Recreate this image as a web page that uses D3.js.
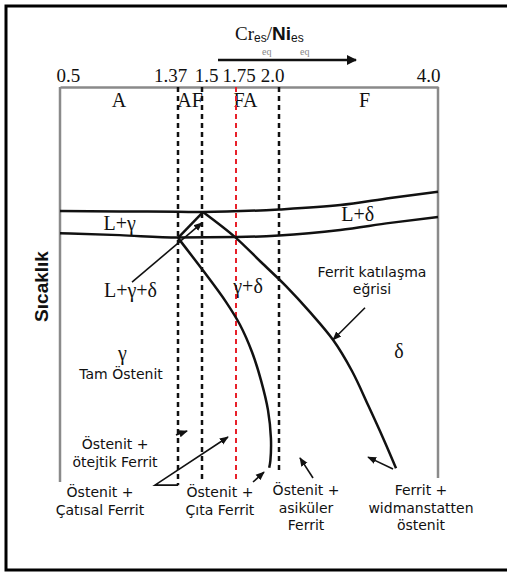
<!DOCTYPE html>
<html>
<head>
<meta charset="utf-8">
<script src="https://cdn.jsdelivr.net/npm/d3@7"></script>
<style>
  body { margin: 0; background: #fff; }
  svg { display: block; }
  .serif { font-family: "Liberation Serif", "Times New Roman", serif; }
  .sans { font-family: "DejaVu Sans", sans-serif; font-size: 14px; }
</style>
</head>
<body>
<div class="chart"></div>
<script>
// Cr_es/Ni_es ratios marked on the top edge
const ticks = [0.5, 1.37, 1.5, 1.75, 2.0, 4.0]
const tickLabels = ["0.5", "1.37", "1.5", "1.75", "2.0", "4.0"]

// solidification modes between the marks
const modes = ["A", "AF", "FA", "F"]
const modeBounds = [[0.5, 1.37], [1.37, 1.5], [1.5, 2.0], [2.0, 4.0]]

// dashed mode boundaries (ratio), lowest relative temperature reached, red or not
const boundaries = [1.37, 1.5, 1.75, 2.0]
const boundaryEnds = [-0.8, 0, 0, 3]
const boundaryRed = [false, false, true, false]

// phase lines: [ratio, relative temperature 0..100]
const liquidus = [[0.5, 68.6], [0.94, 68.5], [1.37, 68.4], [1.507, 68.35], [2.0, 69.0], [2.77, 70.1], [3.4, 71.9], [4.0, 73.5]]
const solidus = [[0.5, 63.0], [0.94, 62.5], [1.37, 61.9], [1.756, 62.0], [2.0, 62.4], [2.77, 63.8], [3.4, 65.6], [4.0, 67.1]]
const peritectic = [[1.37, 61.8], [1.507, 68.35]]
const ferriteCurve = [[1.507, 68.35], [1.743, 62.0], [1.895, 55.7], [2.088, 49.6], [2.39, 43.0], [2.679, 36.0],
  [2.918, 28.1], [3.12, 19.5], [3.321, 10.6], [3.472, 3.5]]
const austeniteCurve = [[1.37, 61.8], [1.515, 53.2], [1.676, 45.6], [1.773, 39.8], [1.843, 32.9], [1.895, 25.8],
  [1.936, 18.2], [1.953, 11.1], [1.95, 5.5], [1.943, 3.6]]

// phase fields
const phaseNames = ["L+γ", "L+δ", "L+γ+δ", "γ+δ", "γ", "δ"]
const phaseAt = [[0.94, 63.8], [2.99, 66.1], [1.02, 46.8], [1.82, 47.9], [0.96, 30.9], [3.51, 31.4]]

// microstructure notes
const noteTexts = [
  ["Tam Östenit"],
  ["Ferrit katılaşma", "eğrisi"],
  ["Östenit +", "ötejtik Ferrit"],
  ["Östenit +", "Çatısal Ferrit"],
  ["Östenit +", "Çıta Ferrit"],
  ["Östenit +", "asiküler", "Ferrit"],
  ["Ferrit +", "widmanstatten", "östenit"]
]
const noteAt = [[0.95, 26.1], [3.17, 51.9], [0.906, 8.35], [0.795, -3.8], [1.632, -3.8], [2.34, -3.3], [3.786, -3.3]]

// pointers, arrowhead at the last point
const pointers = [
  [[1.031, 50.6], [1.5, 65.6]],
  [[3.082, 44.1], [2.679, 36.0]],
  [[1.355, 11.9], [1.419, 12.9]],
  [[1.37, -0.8], [1.2, -0.8], [1.691, 11.4]],
  [[1.849, 0], [1.913, 2.5]],
  [[2.428, 1.0], [2.264, 6.1]],
  [[3.434, 3.3], [3.12, 6.3]]
]

// ---- layout
const W = 507, H = 572
const xStops = [60, 178, 202, 236, 279, 438]   // schematic, not proportional
const plotTop = 87, plotBottom = 482

const svg = d3.select(".chart").append("svg")
  .attr("width", W).attr("height", H)

const x = d3.scaleLinear().domain(ticks).range(xStops)
const y = d3.scaleLinear().domain([0, 100]).range([plotBottom, plotTop])

const defs = svg.append("defs")
defs.append("marker").attr("id", "head")
  .attr("viewBox", "0 0 10 10").attr("refX", 9).attr("refY", 5)
  .attr("markerWidth", 9).attr("markerHeight", 9)
  .attr("markerUnits", "userSpaceOnUse").attr("orient", "auto")
  .append("path").attr("d", "M0,1L10,5L0,9z").attr("fill", "#111")
defs.append("marker").attr("id", "bighead")
  .attr("viewBox", "0 0 10 10").attr("refX", 9).attr("refY", 5)
  .attr("markerWidth", 13).attr("markerHeight", 10)
  .attr("markerUnits", "userSpaceOnUse").attr("orient", "auto")
  .append("path").attr("d", "M0,0L10,5L0,10z").attr("fill", "#111")

// outer frame (open on the right)
svg.append("path")
  .attr("d", `M${W},6H6V570H${W}`)
  .attr("fill", "none").attr("stroke", "#000").attr("stroke-width", 3)

// title, with the faint "eq" left over under it
svg.selectAll(".ghost").data([262, 300]).join("text")
  .attr("class", "ghost serif")
  .attr("x", d => d).attr("y", 55)
  .attr("font-size", 10).attr("fill", "#888")
  .text("eq")

const title = svg.append("text").attr("x", 235).attr("y", 40).attr("fill", "#111")
title.append("tspan").attr("class", "serif").attr("font-size", 19).text("Cr")
title.append("tspan").attr("font-family", "Liberation Sans").attr("font-size", 12).attr("dy", 2).text("es")
title.append("tspan").attr("class", "serif").attr("font-size", 19).attr("dy", -2).text("/")
title.append("tspan").attr("font-family", "Liberation Sans").attr("font-weight", "bold").attr("font-size", 19).text("Ni")
title.append("tspan").attr("font-family", "Liberation Sans").attr("font-size", 12).attr("dy", 2).text("es")

svg.append("line")
  .attr("x1", 218).attr("x2", 356).attr("y1", 60).attr("y2", 60)
  .attr("stroke", "#111").attr("stroke-width", 2.5)
  .attr("marker-end", "url(#bighead)")

// axis on the top edge of the box
const axis = d3.axisTop(x)
  .tickValues(ticks)
  .tickSize(0).tickSizeOuter(0).tickPadding(5)
  .tickFormat((d, i) => tickLabels[i])

const gAxis = svg.append("g")
  .attr("transform", `translate(0,${plotTop})`)
  .call(axis)
gAxis.select(".domain").attr("stroke", "#8a8a8a").attr("stroke-width", 2.5)
gAxis.selectAll("text")
  .attr("class", "serif").attr("font-size", 19).attr("fill", "#111")
  .attr("text-anchor", (d, i) => i === 0 ? "start" : i === ticks.length - 1 ? "end" : "middle")
  .attr("dx", (d, i) => [-4, -8, 4, 2.5, -7, 2][i])

// box sides
svg.append("line").attr("x1", x(0.5)).attr("x2", x(0.5)).attr("y1", plotTop).attr("y2", y(0))
  .attr("stroke", "#8a8a8a").attr("stroke-width", 2.5)
svg.append("line").attr("x1", x(4.0)).attr("x2", x(4.0)).attr("y1", plotTop).attr("y2", y(1))
  .attr("stroke", "#8a8a8a").attr("stroke-width", 2.5)

// mode names
svg.selectAll(".mode").data(modes).join("text")
  .attr("class", "mode serif")
  .attr("x", (d, i) => (x(modeBounds[i][0]) + x(modeBounds[i][1])) / 2 + [0, 0, 5, 6][i])
  .attr("y", 107)
  .attr("text-anchor", "middle").attr("font-size", 20).attr("fill", "#111")
  .text(d => d)

// dashed boundaries
svg.selectAll(".bound").data(boundaries).join("line")
  .attr("class", "bound")
  .attr("x1", d => x(d)).attr("x2", d => x(d))
  .attr("y1", plotTop).attr("y2", (d, i) => y(boundaryEnds[i]))
  .attr("stroke", (d, i) => boundaryRed[i] ? "#e8202a" : "#111")
  .attr("stroke-width", (d, i) => boundaryRed[i] ? 2 : 2.5)
  .attr("stroke-dasharray", "5,4")

// phase lines
const flat = d3.line().x(d => x(d[0])).y(d => y(d[1])).curve(d3.curveMonotoneX)
const bent = d3.line().x(d => x(d[0])).y(d => y(d[1])).curve(d3.curveCatmullRom.alpha(0.5))

svg.append("path").datum(liquidus).attr("d", flat)
  .attr("fill", "none").attr("stroke", "#111").attr("stroke-width", 2.5)
svg.append("path").datum(solidus).attr("d", flat)
  .attr("fill", "none").attr("stroke", "#111").attr("stroke-width", 2.5)
svg.append("path").datum(peritectic).attr("d", bent)
  .attr("fill", "none").attr("stroke", "#111").attr("stroke-width", 2.5)
svg.append("path").datum(ferriteCurve).attr("d", bent)
  .attr("fill", "none").attr("stroke", "#111").attr("stroke-width", 2.5)
svg.append("path").datum(austeniteCurve).attr("d", bent)
  .attr("fill", "none").attr("stroke", "#111").attr("stroke-width", 2.5)

// pointers
svg.selectAll(".pointer").data(pointers).join("path")
  .attr("class", "pointer")
  .attr("d", d3.line().x(d => x(d[0])).y(d => y(d[1])))
  .attr("fill", "none").attr("stroke", "#111").attr("stroke-width", 1.6)
  .attr("marker-end", "url(#head)")

// phase field names
svg.selectAll(".phase").data(phaseNames).join("text")
  .attr("class", "phase serif")
  .attr("x", (d, i) => x(phaseAt[i][0]))
  .attr("y", (d, i) => y(phaseAt[i][1]))
  .attr("text-anchor", "middle").attr("font-size", 20).attr("fill", "#111")
  .text(d => d)

// notes
const notes = svg.selectAll(".note").data(noteTexts).join("text")
  .attr("class", "note sans")
  .attr("text-anchor", "middle").attr("fill", "#111")
  .attr("transform", (d, i) => `translate(${x(noteAt[i][0])},${y(noteAt[i][1])})`)
notes.selectAll("tspan").data(d => d).join("tspan")
  .attr("x", 0).attr("y", (d, j) => j * 17.5)
  .text(d => d)

// temperature axis title
svg.append("text")
  .attr("transform", `translate(48,${(plotTop + plotBottom) / 2 + 2}) rotate(-90)`)
  .attr("text-anchor", "middle")
  .attr("font-family", "Liberation Sans").attr("font-weight", "bold").attr("font-size", 19)
  .attr("fill", "#111")
  .text("Sıcaklık")
</script>
</body>
</html>
